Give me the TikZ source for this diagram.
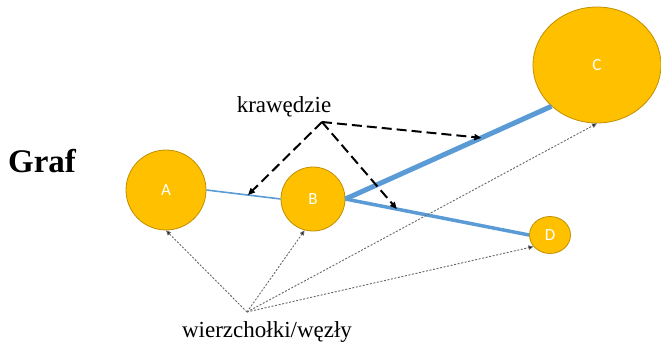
\documentclass[tikz,border=0pt]{standalone}
\usepackage{fontspec}
\setmainfont{Liberation Serif}
\newfontfamily\lblfont{Carlito}
\usetikzlibrary{shapes.geometric,arrows.meta}
\definecolor{vfill}{HTML}{FFC000}
\definecolor{vdraw}{HTML}{BF9000}
\definecolor{eblue}{HTML}{5B9BD5}
\tikzset{
  vert/.style={ellipse, fill=vfill, draw=vdraw, line width=0.8pt, inner sep=0pt,
    text=white, font=\lblfont\fontsize{17}{17}\selectfont},
  edgeline/.style={draw=eblue},
  kraw/.style={black, line width=2pt, dash pattern=on 10pt off 5pt,
    -{Triangle[length=7pt,width=6pt]}},
  wez/.style={gray!80!black, line width=0.9pt, dash pattern=on 2pt off 1.6pt,
    -{Triangle[length=5pt,width=4.5pt,fill=black]}},
  lbl/.style={inner sep=0pt, anchor=base, font=\fontsize{23}{23}\selectfont}
}
\begin{document}
\begin{tikzpicture}[x=1pt,y=-1pt]
\useasboundingbox (0,0) rectangle (661,342);
\node[vert, minimum width=80pt, minimum height=80pt] (A) at (166,190) {A};
\node[vert, minimum width=64pt, minimum height=64pt] (B) at (313,199) {B};
\node[vert, minimum width=128pt, minimum height=116pt] (C) at (597,65) {C};
\node[vert, minimum width=41pt, minimum height=37pt] (D) at (550,235) {D};

\draw[edgeline, line width=1.6pt] (A.east) -- coordinate[pos=0.56] (eAB) (B.west);
\draw[edgeline, line width=5pt] (B.east) -- coordinate[pos=0.66] (eBC) (C.south west);
\draw[edgeline, line width=3.5pt] (B.east) -- coordinate[pos=0.28] (eBD) (D.west);

\node[lbl] (kr) at (284,113) {krawędzie};
\coordinate (k) at (322,122);
\draw[kraw] (k) -- (eAB);
\draw[kraw] (k) -- (eBC);
\draw[kraw] (k) -- (eBD);

\node[lbl] (wz) at (267,337) {wierzchołki/węzły};
\coordinate (w) at (247,312);
\draw[wez] (w) -- (A.south);
\draw[wez] (w) -- (B.255);
\draw[wez] (w) -- (C.south);
\draw[wez] (w) -- (D.215);

\node[inner sep=0pt, anchor=base, font=\bfseries\fontsize{33}{33}\selectfont] (g) at (42,172) {Graf};
\end{tikzpicture}
\end{document}
